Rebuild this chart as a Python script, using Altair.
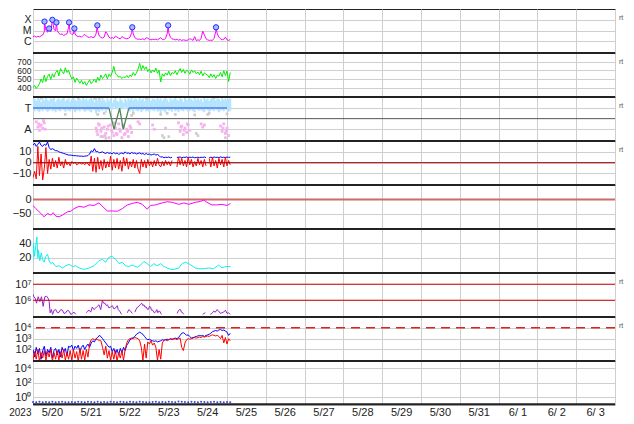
import altair as alt
import pandas as pd

W = 582
H = 43.3
FONT = "Liberation Sans"
GRID = "#cfcfcf"

# time axis: hours since 2023-05-20 00:00, 15 days shown
HOURS = list(range(123))
DAY_LABELS = ["5/20", "5/21", "5/22", "5/23", "5/24", "5/25", "5/26", "5/27",
              "5/28", "5/29", "5/30", "5/31", "6/ 1", "6/ 2", "6/ 3"]

# ---- panel 1: X-ray flux (log10 W/m2), hourly
xray = [-5.55, -5.5, -5.6, -5.52, -5.58, -5.48, -5.4, -5.1, -4.95, -5.15,
        -4.8, -5.1, -4.0, -4.9, -5.0, -5.0, -5.25, -5.35, -5.3, -5.45,
        -5.35, -5.3, -4.7, -5.2, -5.35, -5.3, -5.3, -5.5, -5.55, -5.5,
        -5.6, -5.45, -5.35, -5.5, -5.6, -5.62, -5.55, -5.65, -5.6, -5.3,
        -5.0, -5.5, -5.62, -5.68, -5.6, -5.1, -5.3, -5.6, -5.7, -5.65,
        -5.72, -5.5, -5.6, -5.7, -5.75, -5.55, -5.65, -5.72, -5.75, -5.7,
        -5.6, -5.2, -5.3, -5.65, -5.75, -5.8, -5.78, -5.82, -5.75, -5.85,
        -5.65, -5.7, -5.8, -5.85, -5.8, -5.83, -5.78, -5.85, -5.75, -5.65,
        -5.8, -5.85, -5.7, -5.3, -5.2, -5.6, -5.75, -5.8, -5.85, -5.8,
        -5.88, -5.82, -5.9, -5.85, -5.88, -5.9, -5.85, -5.75, -5.8, -5.9,
        -5.55, -5.92, -5.85, -5.9, -5.7, -5.05, -5.4, -5.75, -5.85, -5.9,
        -5.88, -5.9, -5.7, -5.1, -5.3, -5.6, -5.75, -5.85, -5.8, -5.6,
        -5.85, -5.9, -5.82]
flare_h = [7.1, 10, 12, 14.5, 22.3, 25.6, 39.8, 61.4, 83.6, 113.2]
flare_v = [-4.16, -4.8, -4.0, -4.24, -4.24, -4.8, -4.51, -4.69, -4.51, -4.69]

# ---- panel 2: solar wind speed km/s, hourly
speed = [400, 425, 390, 415, 445, 500, 460, 545, 470, 530,
         555, 495, 560, 520, 575, 600, 535, 620, 585, 560,
         630, 575, 600, 545, 500, 525, 460, 510, 480, 450,
         485, 440, 470, 425, 455, 490, 445, 470, 500, 460,
         520, 480, 545, 505, 530, 560, 500, 555, 530, 575,
         645, 560, 545, 520, 530, 505, 525, 515, 540, 515,
         545, 530, 575, 540, 570, 615, 680, 600, 655, 610,
         640, 585, 615, 570, 605, 580, 625, 565, 600, 465,
         560, 530, 570, 545, 590, 540, 575, 560, 595, 550,
         585, 620, 575, 610, 565, 600, 590, 555, 605, 575,
         595, 560, 580, 550, 590, 535, 570, 555, 545, 515,
         560, 520, 550, 505, 545, 530, 575, 525, 595, 540,
         590, 470, 575]

# ---- panel 3: sector (T = +1, A = -1)
ta_hi = [1.8, 1.9, 1.7, 1.95, 1.85, 1.6, 1.9, 1.75, 1.95, 1.8, 1.7, 1.9, 1.85, 1.95, 1.6, 1.8, 1.9, 1.75, 1.85, 1.95,
         1.7, 1.8, 1.9, 1.65, 1.85, 1.95, 1.8, 1.7, 1.9, 1.85, 1.75, 1.95, 1.8, 1.9, 1.7, 1.85, 1.95, 1.8, 1.6, 1.9,
         1.75, 1.85, 1.7, 1.95, 1.8, 1.6, 1.9, 1.7, 1.85, 1.5, 1.8, 1.95, 1.7, 1.6, 1.9, 1.75, 1.5, 1.85, 1.7, 1.9,
         1.8, 1.95, 1.75, 1.9, 1.85, 1.7, 1.95, 1.8, 1.9, 1.65, 1.85, 1.95, 1.8, 1.7, 1.9, 1.85, 1.75, 1.95, 1.8, 1.9,
         1.7, 1.85, 1.95, 1.8, 1.6, 1.9, 1.75, 1.85, 1.95, 1.8, 1.7, 1.9, 1.85, 1.6, 1.95, 1.8, 1.75, 1.9, 1.85, 1.7,
         1.95, 1.8, 1.9, 1.75, 1.85, 1.6, 1.95, 1.8, 1.9, 1.7, 1.85, 1.95, 1.8, 1.75, 1.9, 1.85, 1.7, 1.95, 1.8, 1.9,
         1.75, 1.85, 1.9]
ta_lo = [0.8, 0.7, 0.9, 0.75, 0.6, 0.85, 0.7, 0.9, 0.8, 0.65, 0.75, 0.9, 0.7, 0.8, 0.6, 0.85, 0.75, 0.7, 0.9, 0.8,
         0.65, 0.85, 0.75, 0.7, 0.9, 0.8, 0.6, 0.75, 0.85, 0.7, 0.9, 0.8, 0.65, 0.75, 0.85, 0.7, 0.6, 0.9, 0.8, 0.5,
         0.7, 0.6, 0.85, 0.75, 0.9, 0.55, 0.8, 0.9, 1.0, 0.85, 1.1, 0.95, 0.9, 1.05, 0.85, 1.0, 0.9, 1.1, 0.95, 0.8,
         0.7, 0.85, 0.6, 0.9, 0.75, 0.7, 0.85, 0.6, 0.8, 0.9, 0.7, 0.75, 0.6, 0.85, 0.8, 0.7, 0.9, 0.65, 0.75, 0.5,
         0.8, 0.7, 0.55, 0.9, 0.75, 0.8, 0.65, 0.9, 0.7, 0.8, 0.6, 0.85, 0.75, 0.7, 0.9, 0.8, 0.65, 0.75, 0.85, 0.7,
         0.6, 0.9, 0.8, 0.75, 0.85, 0.7, 0.6, 0.9, 0.8, 0.65, 0.75, 0.85, 0.7, 0.9, 0.8, 0.6, 0.75, 0.85, 0.7, 0.9,
         0.8, 0.65, 0.75]
away_h = [2, 3, 3.5, 4, 5, 6, 7, 7.5, 39, 40, 41, 42, 43, 44, 45, 46, 47, 48, 49, 50, 51, 52, 53, 54, 55, 56,
          57, 58, 59, 60, 61, 65, 66, 74, 75, 82, 90, 91, 92, 93, 94, 95, 96, 97, 104, 105, 106,
          116, 117, 118, 119, 120, 121,
          39.5, 40.5, 42.5, 44.5, 46.5, 48.5, 50.5, 51.5, 53.5, 55.5, 56.5, 58.5, 60.5, 91.5, 93.5, 95.5,
          117.5, 119.5, 4.5, 6.5]
away_v = [-0.3, -0.8, -0.5, -1.1, -0.6, -0.9, -0.4, -1.0, -0.9, -1.5, -0.6, -1.2, -1.7, -0.8, -1.4, -1.0, -1.8,
          -0.6, -1.3, -1.6, -0.9, -1.5, -0.5, -1.2, -1.8, -0.8, -1.4, -1.0, -1.7, -0.7, -1.3, -0.3, -0.5,
          -0.6, -1.0, -0.9, -0.4, -1.2, -0.7, -1.5, -0.9, -1.3, -0.6, -1.1, -0.5, -0.8, -0.6,
          -0.7, -1.2, -0.5, -1.4, -0.9, -1.6,
          -1.2, -0.5, -0.9, -1.6, -0.7, -1.1, -0.4, -1.4, -1.0, -0.6, -1.5, -1.2, -0.9, -0.8, -1.1, -0.5,
          -0.9, -1.2, -0.7, -0.2]
gray_h = [5, 20, 28, 38, 39, 40, 41, 42, 44, 45, 61, 62, 70, 79, 80, 81, 83, 84, 88, 100, 101, 102, 108, 109,
          112, 119, 120]
gray_v = [1.95, 0.4, 1.95, 1.9, 2.0, 0.4, 1.85, -1.7, 0.5, -1.85, 0.3, 0.5, 1.95, 0.4, -1.6, -1.8, 0.5, -1.7,
          0.4, 0.35, -1.4, -1.6, 0.4, 0.5, 1.95, -1.8, 0.45]
sector_blue_h = [0, 47, None, 59.3, 120]
sector_green_h = [47, 50.1, 53.6, 55.8, 59.3]
sector_green_v = [1, -1, 1, -1, 1]

# ---- panel 4: IMF Bt (blue) and Bz (red), nT, hourly
bt = [16, 18, 15, 17, 19, 16, 15, 17, 16, 19,
      14, 12, 13, 12, 11, 11, 10, 9.5, 9, 8.5,
      8, 7.5, 7, 7, 6.8, 6.5, 6.5, 6.3, 6.2, 6,
      6, 5.8, 6, 6.2, 6.5, 8, 11, 10, 13, 10,
      10.5, 9, 9.5, 10, 9, 8.5, 9.5, 8.5, 9, 8,
      9.5, 8, 9, 7.5, 8.5, 9, 8, 10, 8.5, 9,
      8, 9.5, 8.5, 9, 8, 8.5, 9, 8, 8.5, 7.5,
      8.5, 7.5, 8, 7, 7.5, 8, 7, 7.5, 6.5, 5,
      5.5, 4.5, 5, 4.8, 5.2, 4.5, 5, None, None, 4.8,
      5, 5.2, 4.5, 5, 4.8, 5.3, 4.6, 5, 4.8, 5.2,
      4.5, 4.8, 5, 4.6, 5, 4.8, 5.2, 4.6, None, 4.8,
      5, 4.7, 5.2, 4.8, 5, 4.6, 5.3, 4.8, 5, 4.7,
      5.2, 4.9, 5]
bz = [-14, -8, -15, 15, -12, 8, -16, -5, 14, -10,
      3, -6, 4, -4, 2, -5, 5, -3, 1, -5,
      3, -2, 0, -3, 1, -1, 0.5, -2, -1, 0,
      -1.5, -0.5, -2, 0, -1, -3, 6, -8, 4, -9,
      5, -6, 2, -7, 3, -5, 1, -4, 6, -7,
      3, -5, 4, -6, 2, -8, 5, -3, 4, -6,
      1, -4, 3, -5, 2, -6, -10, 3, -4, 2,
      -5, 3, -3, 1, -4, 2, -3, 4, -2, -4,
      1, -3, 2, -2, 1, -3, 2, None, None, -4,
      5, -2, 4, -3, 2, -4, 5, -2, 3, -4,
      1, -3, 4, -2, 2, -4, 3, -3, None, 4,
      -4, 5, -3, 2, -5, 4, -2, 3, -4, 5,
      -3, 2, -2]

# ---- panel 5: Dst index, nT
dst_h = [0, 1.8, 4.9, 6.9, 9.0, 11.0, 12.5, 14.1, 16.2, 18.2, 21.3, 23.4, 25.4, 28.5, 31.6, 34.7, 37.7,
         40.8, 43.9, 46.0, 49.1, 52.2, 55.2, 58.3, 61.4, 64.5, 67.6, 70.6, 72.7, 75.8, 79.9, 83.0, 86.1,
         90.2, 93.3, 96.3, 100.4, 103.5, 105.6, 107.6, 110.7, 113.8, 116.9, 120.0, 122.1]
dst_v = [-21, -32, -49, -60, -49, -54, -46, -58, -60, -54, -43, -41, -32, -24, -27, -19, -21, -12, -29,
         -40, -40, -41, -32, -19, -14, -10, -17, -34, -21, -19, -12, -8, -10, -17, -12, -17, -10, -7, -2,
         -10, -19, -19, -17, -21, -14]

# ---- panel 6: cyan series
cyan_h = [0, 0.3, 0.9, 2.4, 3.0, 3.4, 4.2, 5.1, 5.9, 6.9, 7.9, 9.0, 10.0, 11.0, 12.1, 14.1, 16.2, 18.2,
          20.3, 22.3, 24.4, 26.4, 28.5, 31.6, 34.7, 37.7, 40.8, 42.9, 44.9, 47.0, 49.1, 51.1, 53.2, 55.2,
          57.3, 59.3, 61.4, 64.5, 66.5, 68.6, 70.6, 72.7, 74.8, 76.8, 78.9, 81.0, 83.0, 85.1, 87.1, 90.2,
          92.2, 94.3, 96.3, 98.4, 100.4, 102.5, 105.6, 108.6, 111.7, 114.8, 116.9, 119.0, 122.1]
cyan_v = [16, 40, 22, 49, 20, 31, 16, 27, 18, 14, 22, 25, 16, 12, 14, 8, 9, 6, 9, 11, 8, 9, 6, 4, 6, 9, 16,
          18, 14, 21, 22, 18, 12, 14, 9, 8, 10, 7, 10, 15, 12, 8, 12, 9, 12, 8, 6, 4, 4, 6, 12, 14, 12, 9,
          6, 5, 5, 6, 5, 10, 6, 8, 8]

# ---- panel 7: electron flux (log10)
elec_h = [0, 0.53, 1.36, 2.18, 3.21, 4.24, 5.26, 6.29, 7.32, 8.35, 9.38, 10.0, 10.6, 11.4, 12.1, 13.1, 14.1,
          15.1, 16.2, 17.2, 18.2, 19.2, 20.3, 21.3, 22.3, 23.4, 24.4, 25.4, 26.4, None,
          33.0, 33.8, 34.7, 35.7, 36.7, 37.7, 38.8, 39.8, 40.8, 41.9, 42.9, 43.7, 44.5, 45.4, 46.0, 47.0,
          48.0, 49.1, 50.1, 51.1, 52.1, 52.7, 53.6, 54.8, None,
          58.3, 59.3, 60.4, 61.4, None,
          63.0, 63.9, 64.7, 65.5, 66.3, 67.2, 68.0, 68.6, 69.2, 70.0, 70.6, 71.3, 72.1, 72.7, 73.3, 74.1,
          75.0, 75.8, 76.6, 77.2, 77.8, 78.4, 79.1, 79.5, None,
          89.2, 89.8, 90.6, 91.2, 91.8, 92.2, 93.3, None,
          105.0, 105.8, 106.6, None,
          109.7, 110.7, 111.8, 112.8, 113.8, 114.9, 115.9, 116.9, 117.9, 119.0, 120.0, 121.0, 122.0]
elec_v = [6.38, 6.22, 6.12, 5.82, 6.22, 5.92, 6.22, 5.62, 6.22, 6.26, 6.12, 5.92, 5.22, 5.42, 5.12, 5.38,
          5.42, 5.22, 5.26, 5.42, 5.38, 5.18, 5.22, 5.38, 5.32, 5.12, 5.18, 5.26, 5.12, None,
          5.22, 5.32, 5.38, 5.26, 5.58, 5.42, 5.52, 5.62, 5.72, 5.42, 5.98, 5.82, 5.82, 5.66, 5.72, 5.52,
          5.58, 5.66, 5.46, 5.52, 5.66, 5.42, 5.32, 5.12, None,
          5.22, 5.42, 5.32, 5.18, None,
          5.26, 5.46, 5.58, 5.62, 5.72, 5.82, 5.66, 5.72, 5.58, 5.58, 5.46, 5.42, 5.62, 5.58, 5.38, 5.38,
          5.22, 5.26, 5.42, 5.22, 5.32, 5.32, 5.18, 5.12, None,
          5.18, 5.32, 5.42, 5.42, 5.26, 5.26, 5.12, None,
          5.12, 5.18, 5.22, None,
          5.12, 5.18, 5.32, 5.26, 5.42, 5.32, 5.18, 5.22, 5.26, 5.38, 5.18, 5.22, 5.12]

# ---- panel 8: proton flux (log10), hourly
prot_blue = [2.0, 1.3, 2.2, 1.6, 2.1, 1.1, 1.9, 2.3, 1.4, 2.0, 1.7, 2.2, 1.2, 1.9, 2.1, 1.5, 2.0, 1.3, 2.2, 1.8,
             2.1, 1.4, 2.3, 2.2, 2.4, 1.9, 2.3, 2.1, 2.4, 1.8, 2.2, 2.4, 2.0, 2.3, 2.5, 2.2, 2.6,
             2.8, 2.7, 3.0, 3.1, 3.3, 3.2, 3.0, 2.8, 2.6, 2.4, 2.2, 2.3,
             1.8, 2.1, 1.6, 2.0, 1.5, 2.1, 1.7, 2.2, 1.9, 2.4, 2.6, 2.9,
             3.0, 3.1, 3.2, 3.4, 3.5, 3.6, 3.5, 3.4, 3.2, 3.0, 2.9, 2.95, 2.85, 2.8,
             2.75, 2.8, 2.7, 2.75, 2.8, 2.9, 2.85, 2.9, 2.95, 2.9, 3.0, 2.95,
             3.0, 3.05, 3.0, 3.1, 3.3, 3.5, 3.55, 3.45, 3.3, 3.35, 3.2,
             3.05, 3.1, 3.15, 3.2, 3.25, 3.3, 3.25, 3.3, 3.2, 3.3, 3.35, 3.4, 3.5,
             3.65, 3.7, 3.75, 3.7, 3.8, 3.85, 3.75, 3.8, 3.7, 3.6, 3.3, 3.5]
prot_red = [1.0, 1.8, 1.1, 2.0, 0.9, 1.7, 1.2, 1.9, 1.0, 1.8, 1.3, 2.0, 0.9, 1.7, 1.1, 1.9, 1.0, 1.8, 1.2, 2.0,
            1.0, 1.7, 1.1, 1.9, 1.0, 2.0, 1.2, 1.8, 0.9, 2.1, 1.1, 1.9, 1.0, 2.0, 1.3,
            2.5, 2.9, 3.0, 2.9, 2.95, 2.9, 2.85, 2.8,
            2.2, 1.5, 2.3, 1.2, 1.9, 1.0, 1.8, 1.1, 1.9, 0.9, 1.7, 1.2, 1.9, 1.0, 2.0,
            2.6, 2.9, 3.0, 3.05, 3.0, 3.1, 3.05, 3.0, 2.8,
            2.2, 1.0, 2.5, 1.2, 2.7, 2.5, 2.8, 2.4, 2.6, 2.2, 1.0, 2.0, 1.1, 2.6,
            2.85, 2.9, 2.8, 2.9, 2.95, 2.9, 2.95, 3.0, 2.9, 3.0, 3.05, 2.2, 1.9,
            2.6, 2.9, 3.0, 2.95, 3.0, 3.05, 3.1, 3.05, 3.1, 3.15, 3.1, 3.2, 3.15, 3.2, 3.25, 3.2, 3.3,
            3.35, 3.3, 3.25, 3.3, 3.2, 3.0, 3.3, 2.6, 3.1, 2.5, 3.0, 2.8]

# ---- panel 9: (log10), every 2 hours
p9_h = list(range(0, 123, 2))
p9_v = [-0.68, -0.7, -0.66, -0.72, -0.68, -0.7, -0.64, -0.7, -0.68, -0.66, -0.7, -0.72, -0.68, -0.7, -0.66,
        -0.68, -0.7, -0.64, -0.68, -0.7, -0.66, -0.7, -0.68, -0.72, -0.66, -0.68, -0.7, -0.66, -0.68, -0.7,
        -0.64, -0.68, -0.7, -0.66, -0.68, -0.7, -0.72, -0.68, -0.66, -0.7, -0.68, -0.7, -0.66, -0.68, -0.7,
        -0.62, -0.66, -0.68, -0.7, -0.66, -0.68, -0.7, -0.66, -0.68, -0.7, -0.68, -0.66, -0.7, -0.68, -0.7,
        -0.68, -0.7]

for name, arr in [("xray", xray), ("speed", speed), ("ta_hi", ta_hi), ("ta_lo", ta_lo), ("bt", bt),
                  ("bz", bz), ("prot_blue", prot_blue), ("prot_red", prot_red)]:
    assert len(arr) == 123, (name, len(arr))
assert len(away_h) == len(away_v), ("away", len(away_h), len(away_v))
assert len(gray_h) == len(gray_v), ("gray", len(gray_h), len(gray_v))
assert len(dst_h) == len(dst_v)
assert len(cyan_h) == len(cyan_v)
assert len(elec_h) == len(elec_v), ("elec", len(elec_h), len(elec_v))
assert len(p9_h) == len(p9_v), ("p9", len(p9_h), len(p9_v))


def seg_df(hs, vs):
    rows, seg = [], 0
    for h, v in zip(hs, vs):
        if h is None or v is None:
            seg += 1
            continue
        rows.append({"h": h, "v": v, "s": seg})
    return pd.DataFrame(rows)


XENC = alt.X("h:Q", scale=alt.Scale(domain=[0, 360], nice=False, zero=False),
             axis=alt.Axis(values=list(range(0, 361, 24)), labels=False, ticks=False, domain=False,
                           title=None, grid=True, gridColor=GRID, gridWidth=1, minExtent=0))


def yenc(domain, values, label_expr=None, field="v", size=11):
    ax = dict(values=values, grid=True, gridColor=GRID, gridWidth=1, ticks=False, domain=False,
              title=None, labelFontSize=size, labelFont=FONT, labelColor="#222", labelPadding=2,
              labelOverlap=False, minExtent=22)
    if label_expr:
        ax["labelExpr"] = label_expr
    return alt.Y(f"{field}:Q", scale=alt.Scale(domain=domain, nice=False, zero=False),
                 axis=alt.Axis(**ax))


DUMMY = pd.DataFrame({"a": [0]})


def separator():
    return alt.Chart(DUMMY).mark_rule(color="#222", strokeWidth=2).encode(
        x=alt.value(0), x2=alt.value(W), y=alt.value(0))


def rt():
    return alt.Chart(DUMMY).mark_text(align="left", baseline="middle", fontSize=7, font=FONT,
                                      color="#555").encode(
        x=alt.value(W + 4), y=alt.value(9), text=alt.value("rt"))


def hline(value, y, color, width=1, dash=None):
    kw = dict(color=color, strokeWidth=width)
    if dash:
        kw["strokeDash"] = dash
    return alt.Chart(pd.DataFrame({"v": [value]})).mark_rule(**kw).encode(y=y)


SUP = "['⁰','¹','²','³','⁴','⁵','⁶','⁷','⁸']"

# panel 1
y1 = yenc([-7, -3], [-6, -5, -4], "datum.value == -4 ? 'X' : datum.value == -5 ? 'M' : 'C'", size=10.5)
xr_df = pd.DataFrame({"h": HOURS + flare_h, "v": xray + flare_v}).sort_values("h", kind="stable")
p1 = alt.layer(
    alt.Chart(xr_df).mark_line(color="#ff00ff", strokeWidth=1, clip=True).encode(x=XENC, y=y1),
    alt.Chart(pd.DataFrame({"h": flare_h, "v": flare_v})).mark_point(
        shape="circle", fill="#aab8ff", fillOpacity=1, stroke="#1a2cff", strokeWidth=1, size=28,
        opacity=1).encode(x=XENC, y=y1),
    rt(),
).properties(width=W, height=H)

# panel 2
y2 = yenc([300, 800], [400, 500, 600, 700], size=8.5)
p2 = alt.layer(
    alt.Chart(pd.DataFrame({"h": HOURS, "v": speed})).mark_line(color="#00ee00", strokeWidth=1,
                                                               clip=True).encode(x=XENC, y=y2),
    separator(), rt(),
).properties(width=W, height=H)

# panel 3
y3 = yenc([-2.05, 2.05], [-1, 1], "datum.value > 0 ? 'T' : 'A'")
band_df = pd.DataFrame({"h": HOURS, "lo": ta_lo, "v": ta_hi})
blue_df = seg_df(sector_blue_h, [1, 1, None, 1, 1])
p3 = alt.layer(
    alt.Chart(band_df).mark_rule(color="#b3e4ff", strokeWidth=2.0, clip=True).encode(
        x=XENC, y=y3, y2="lo:Q"),
    alt.Chart(pd.DataFrame({"h": gray_h, "v": gray_v})).mark_square(color="#cccccc", size=7,
                                                                    opacity=1).encode(x=XENC, y=y3),
    alt.Chart(pd.DataFrame({"h": away_h, "v": away_v})).mark_square(color="#f6b2ef", size=8,
                                                                    opacity=1).encode(x=XENC, y=y3),
    hline(0, y3, "#555555", 1),
    alt.Chart(blue_df).mark_line(color="#5b78e6", strokeWidth=1.5).encode(x=XENC, y=y3, detail="s:N"),
    alt.Chart(pd.DataFrame({"h": sector_green_h, "v": sector_green_v})).mark_line(
        color="#4f8a55", strokeWidth=1.3).encode(x=XENC, y=y3),
    separator(), rt(),
).properties(width=W, height=H)

# panel 4
y4 = yenc([-20, 20], [-10, 0, 10])
p4 = alt.layer(
    alt.Chart(seg_df(HOURS, bt)).mark_line(color="#0000ff", strokeWidth=1, clip=True).encode(
        x=XENC, y=y4, detail="s:N"),
    alt.Chart(seg_df(HOURS, bz)).mark_line(color="#ff0000", strokeWidth=1, clip=True).encode(
        x=XENC, y=y4, detail="s:N"),
    hline(0, y4, "#aa0000", 1),
    separator(), rt(),
).properties(width=W, height=H)

# panel 5
y5 = yenc([-100, 50], [-50, 0])
p5 = alt.layer(
    hline(0, y5, "#d06a6a", 2),
    alt.Chart(pd.DataFrame({"h": dst_h, "v": dst_v})).mark_line(color="#ff00ff", strokeWidth=1,
                                                               clip=True).encode(x=XENC, y=y5),
    separator(),
).properties(width=W, height=H)

# panel 6
y6 = yenc([0, 60], [20, 40])
p6 = alt.layer(
    alt.Chart(pd.DataFrame({"h": cyan_h, "v": cyan_v})).mark_line(color="#11eeee", strokeWidth=1,
                                                                 clip=True).encode(x=XENC, y=y6),
    separator(),
).properties(width=W, height=H)

# panel 7
y7 = yenc([5, 7.7], [6, 7], "'10' + " + SUP + "[datum.value]")
p7 = alt.layer(
    alt.Chart(seg_df(elec_h, elec_v)).mark_line(color="#9922cc", strokeWidth=1, clip=True).encode(
        x=XENC, y=y7, detail="s:N"),
    hline(6, y7, "#cc0000", 1), hline(7, y7, "#cc0000", 1),
    separator(), rt(),
).properties(width=W, height=H)

# panel 8
y8 = yenc([1, 5], [2, 3, 4], "'10' + " + SUP + "[datum.value]")
p8 = alt.layer(
    alt.Chart(pd.DataFrame({"h": HOURS, "v": prot_blue})).mark_line(color="#0000ff", strokeWidth=1,
                                                                   clip=True).encode(x=XENC, y=y8),
    alt.Chart(pd.DataFrame({"h": HOURS, "v": prot_red})).mark_line(color="#ff0000", strokeWidth=1,
                                                                  clip=True).encode(x=XENC, y=y8),
    hline(4, y8, "#dd2222", 1.5, [9, 6]),
    separator(), rt(),
).properties(width=W, height=H)

# panel 9 (with date labels)
y9 = yenc([-1, 5], [0, 2, 4], "'10' + " + SUP + "[datum.value]")
lab_df = pd.DataFrame({"h": [12 + 24 * i for i in range(15)], "lab": DAY_LABELS})
p9 = alt.layer(
    alt.Chart(pd.DataFrame({"h": p9_h, "v": p9_v})).mark_point(filled=True, color="#3344ee", size=4,
                                                              opacity=1).encode(x=XENC, y=y9),
    separator(),
    alt.Chart(DUMMY).mark_rule(color="#222", strokeWidth=2).encode(
        x=alt.value(0), x2=alt.value(W), y=alt.value(H)),
    alt.Chart(lab_df).mark_text(fontSize=11, font=FONT, color="#222", baseline="middle").encode(
        x=XENC, y=alt.value(H + 9), text="lab:N"),
    alt.Chart(DUMMY).mark_text(fontSize=10, font=FONT, color="#222", baseline="middle",
                               align="right").encode(
        x=alt.value(-1.5), y=alt.value(H + 9), text=alt.value("2023")),
).properties(width=W, height=H)

chart = alt.vconcat(p1, p2, p3, p4, p5, p6, p7, p8, p9, spacing=0, bounds="flush").properties(
    padding={"left": 0, "right": 0, "top": 0, "bottom": 0}
).configure_view(stroke="#222", strokeWidth=1)

chart.save("out.html", embed_options={"renderer": "svg", "actions": False})
